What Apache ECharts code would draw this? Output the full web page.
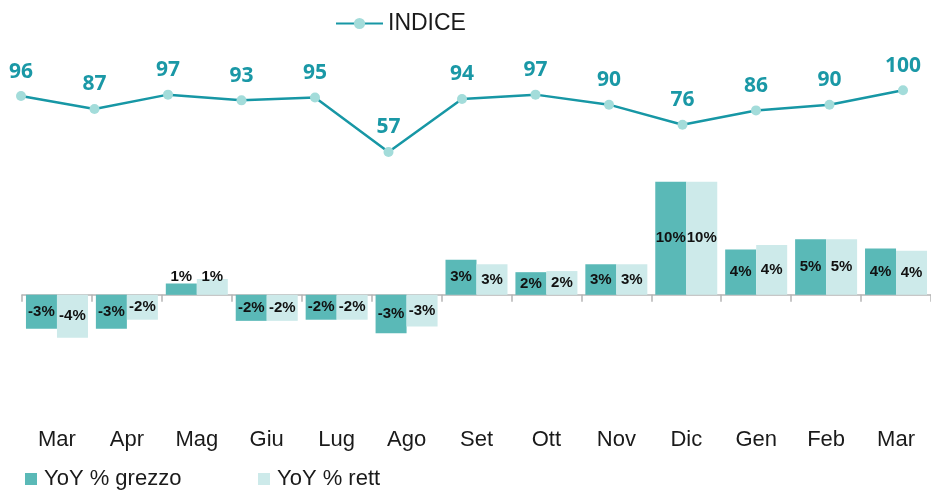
<!DOCTYPE html>
<html>
<head>
<meta charset="utf-8">
<script src="https://cdn.jsdelivr.net/npm/echarts@6/dist/echarts.min.js"></script>
<style>html,body{margin:0;padding:0;background:#fff}#c{width:931px;height:490px}</style>
</head>
<body>
<div id="c"></div>
<script>
const months = ['Mar','Apr','Mag','Giu','Lug','Ago','Set','Ott','Nov','Dic','Gen','Feb','Mar'];
const indice = [96, 87, 97, 93, 95, 57, 94, 97, 90, 76, 86, 90, 100];
const yoyGrezzo = [-3.0, -3.0, 1.0, -2.3, -2.2, -3.4, 3.1, 2.0, 2.7, 10.0, 4.0, 4.9, 4.1];
const yoyRett = [-3.8, -2.2, 1.4, -2.3, -2.2, -2.8, 2.7, 2.1, 2.7, 10.0, 4.4, 4.9, 3.9];
const smallIdx = [2];

const chart = echarts.init(document.getElementById('c'));
const txt = 'Liberation Sans';
function barData(arr){
  return arr.map((v,i)=> smallIdx.includes(i)
    ? {value:v, label:{position:'insideBottom', distance:10}}
    : v);
}
const barLabel = {show:true, position:'inside', color:'#111', fontFamily:txt, fontWeight:'bold', fontSize:15,
  formatter:p=>Math.round(p.value)+'%'};

chart.setOption({
  animation:false,
  legend:[
    {data:['INDICE'], left:330, top:7, itemWidth:47, itemHeight:14, textStyle:{fontFamily:txt, fontSize:23, color:'#1a1a1a'}},
    {data:['YoY % grezzo'], left:20, top:463, itemWidth:12, itemHeight:12, itemGap:10, icon:'rect', textStyle:{fontFamily:txt, fontSize:22, color:'#1a1a1a', padding:[0,0,0,2]}},
    {data:['YoY % rett'], left:253, top:463, itemWidth:12, itemHeight:12, icon:'rect', textStyle:{fontFamily:txt, fontSize:22, color:'#1a1a1a', padding:[0,0,0,2]}}
  ],
  grid:[
    {left:21, right:28, top:76, height:86},
    {left:22, width:913, top:159, height:249}
  ],
  xAxis:[
    {gridIndex:0, type:'category', data:months, boundaryGap:false, show:false},
    {gridIndex:1, type:'category', data:months, boundaryGap:true,
      axisLine:{onZero:true, lineStyle:{color:'#b5b5b5', width:1.5}},
      axisTick:{show:true, length:7, lineStyle:{color:'#b5b5b5', width:1.5}},
      axisLabel:{show:false}},
    {gridIndex:1, type:'category', data:months, boundaryGap:true, position:'bottom',
      axisLine:{show:false, onZero:false}, axisTick:{show:false},
      axisLabel:{margin:21, fontFamily:txt, fontSize:22, color:'#1a1a1a'}}
  ],
  yAxis:[
    {gridIndex:0, type:'value', min:50, max:110, show:false},
    {gridIndex:1, type:'value', min:-10, max:12, show:false}
  ],
  series:[
    {name:'INDICE', type:'line', xAxisIndex:0, yAxisIndex:0, data:indice,
      symbol:'circle', symbolSize:10,
      lineStyle:{color:'#1797a5', width:2.5},
      itemStyle:{color:'#a3dcda'},
      label:{show:true, position:'top', distance:9, color:'#1a98a6', fontFamily:'Noto Sans', fontWeight:'bold', fontSize:21}},
    {name:'YoY % grezzo', type:'bar', xAxisIndex:1, yAxisIndex:1, data:barData(yoyGrezzo),
      barWidth:31, barGap:'0%', itemStyle:{color:'#5ab9b7'}, label:barLabel},
    {name:'YoY % rett', type:'bar', xAxisIndex:1, yAxisIndex:1, data:barData(yoyRett),
      barWidth:31, barGap:'0%', itemStyle:{color:'#cdeaea'}, label:barLabel}
  ]
});
</script>
</body>
</html>
